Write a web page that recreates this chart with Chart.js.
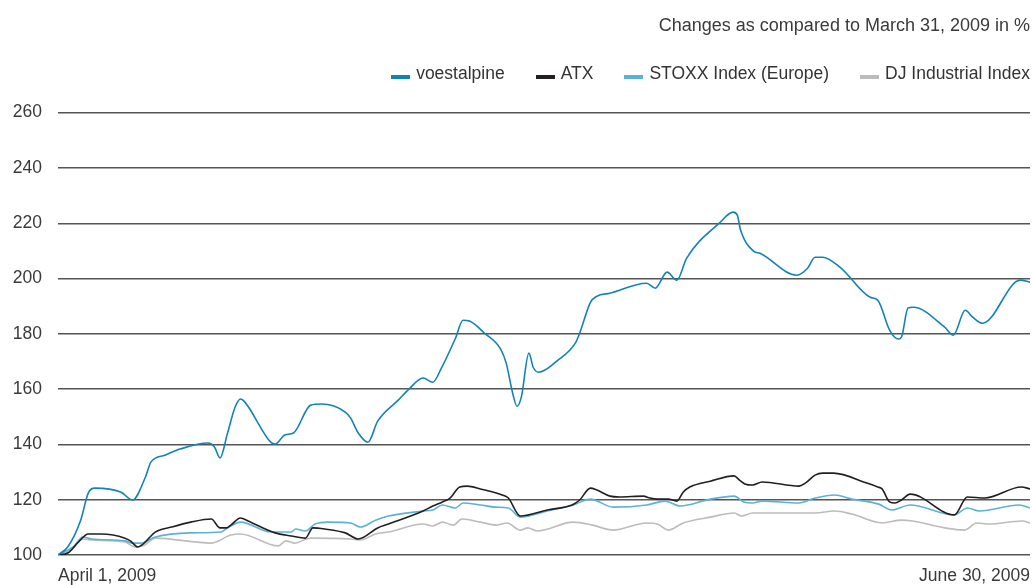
<!DOCTYPE html>
<html>
<head>
<meta charset="utf-8">
<script src="https://cdn.jsdelivr.net/npm/chart.js@4"></script>
<style>
  html, body { margin: 0; padding: 0; background: #fff; }
  #wrap { position: relative; width: 1032px; height: 585px; }
  #legend {
    position: absolute; top: 63px; right: 2px; height: 20px;
    display: flex; align-items: center;
    font-family: "Liberation Sans", Arial, Helvetica, sans-serif;
    font-size: 17.5px; color: #333; white-space: nowrap;
  }
  #legend .item { display: flex; align-items: center; margin-left: 31px; }
  #legend .item:first-child { margin-left: 0; }
  #legend .box { display: inline-block; width: 19px; height: 4px; margin-right: 6px; position: relative; top: 4px; }
</style>
</head>
<body>
<div id="wrap">
  <canvas id="chartCanvas" width="1032" height="585"></canvas>
  <div id="legend"></div>
</div>
<script>
// x = days since April 1, 2009 (0 .. 90 = June 30), y = index, March 31, 2009 = 100
const xLabels = ['April 1, 2009', 'June 30, 2009'];
const yTicks = [100, 120, 140, 160, 180, 200, 220, 240, 260];

const voestDays = [0, 0.9, 2.1, 2.8, 3.4, 5.8, 6.9, 8.1, 8.6, 9.9, 11.3, 13.9, 14.5, 15.0, 15.7, 16.4, 16.9, 17.3,
  19.7, 20.1, 21.0, 21.8, 23.4, 24.4, 26.6, 27.1, 27.8, 28.7, 29.6, 31.5, 32.4, 33.8, 34.7, 35.5, 36.8, 37.5, 38.1,
  39.5, 41.0, 41.5, 42.1, 42.5, 42.9, 43.6, 44.0, 44.5, 46.3, 47.9, 48.3, 49.3, 49.9, 51.1, 54.5, 55.3, 56.4, 57.3,
  58.2, 61.3, 62.5, 62.9, 63.2, 64.4, 65.0, 68.4, 69.4, 70.1, 70.8, 72.4, 75.2, 75.9, 77.0, 77.8, 78.1, 78.7, 79.2,
  82.1, 82.9, 84.0, 84.7, 85.6, 89.1, 90];
const voestValues = [100, 102.9, 112.6, 122.4, 124.2, 122.8, 119.9, 128.2, 133.6, 136.1, 138.3, 140.5, 139, 135.1, 144.1, 153.5, 156.4, 155.3,
  140.8, 140.1, 143.4, 144.1, 154.2, 154.6, 151.7, 149.5, 144.1, 140.8, 148.4, 156, 159.6, 164, 162.5, 167.6, 178.4, 184.9, 184.6,
  180.2, 174.4, 169.4, 158.5, 153.8, 157.1, 173, 167.9, 166.1, 170.5, 176.6, 180.2, 191.4, 193.6, 194.7, 198.3, 196.5, 202.3, 199.4,
  207.3, 220.3, 224, 222.9, 217.5, 209.9, 209.1, 201.2, 203.7, 207.7, 207.7, 204.1, 193.2, 192.2, 181.3, 178.1, 178.8, 189.3, 189.6,
  182.4, 179.5, 188.5, 186, 183.8, 199.4, 198.7];

const atxDays = [0, 0.9, 1.9, 2.8, 4.0, 6.2, 6.7, 7.4, 7.9, 9.0, 10.5, 12.3, 14.2, 15.0, 15.6, 16.0, 16.9, 17.6,
  20.1, 21.6, 22.9, 23.6, 24.7, 26.6, 27.8, 29.6, 30.6, 33.8, 34.7, 35.6, 36.3, 37.2, 37.9, 39.1, 41.4, 41.7, 42.8,
  45.3, 47.6, 48.3, 49.3, 49.9, 51.1, 52.0, 54.2, 54.8, 55.5, 56.5, 57.3, 57.9, 58.5, 60.4, 62.6, 63.1, 63.6, 64.3,
  65.2, 68.6, 69.2, 70.1, 70.8, 71.8, 74.9, 75.9, 76.3, 77.0, 77.5, 78.1, 78.9, 83.0, 84.2, 85.8, 89.2, 90];
const atxValues = [100, 100.7, 104.7, 107.6, 107.6, 106.1, 105.1, 102.9, 104, 108.3, 110.1, 111.9, 113, 109.8, 109.8, 110.8, 113.4, 112.3,
  108, 106.9, 106.1, 109.8, 109.4, 108, 105.8, 109.8, 111.2, 115.9, 117.7, 119.2, 120.6, 124.6, 124.9, 123.9, 121.3, 120.6, 114.1,
  116.3, 118.1, 119.9, 124.2, 123.5, 121.3, 121, 121.3, 120.6, 120.2, 120.2, 119.5, 122.8, 124.6, 126.7, 128.6, 127.1, 125.7, 125.3,
  126.4, 124.9, 126, 128.9, 129.6, 129.6, 126, 124.6, 123.9, 119.2, 118.8, 119.9, 122, 114.5, 121, 120.6, 124.6, 123.9];

const stoxxDays = [0, 1.4, 2.3, 3.1, 6.2, 6.9, 7.7, 9.0, 12.3, 15.1, 15.7, 16.9, 19.7, 21.6, 22.0, 22.9, 23.8, 25.0,
  27.1, 28.0, 29.4, 30.6, 33.8, 34.7, 35.6, 36.8, 37.5, 39.1, 40.5, 41.7, 42.8, 45.3, 47.7, 49.3, 51.4, 54.5, 56.2,
  57.6, 60.4, 62.6, 63.5, 64.3, 65.2, 68.6, 70.1, 71.9, 73.5, 76.0, 77.2, 78.9, 83.0, 84.2, 85.3, 89.0, 90];
const stoxxValues = [100, 102.9, 106.5, 105.8, 105.1, 104.3, 104.3, 106.5, 108, 108.3, 109.8, 111.9, 108.3, 108.3, 109.4, 108.7, 111.2, 111.9,
  111.6, 110.1, 112.6, 114.1, 115.9, 116.3, 118.1, 117, 118.8, 118.1, 117.3, 117, 113.7, 115.9, 118.1, 120.2, 117.3, 118.1, 119.5,
  117.7, 120.2, 121.3, 119.2, 118.8, 119.5, 118.8, 120.6, 121.7, 120.2, 118.4, 116.3, 118.1, 114.5, 117, 115.9, 118.1, 117];

const djDays = [0, 1.2, 2.3, 3.1, 6.2, 7.1, 7.9, 9.0, 14.2, 16.0, 16.9, 20.4, 21.1, 21.9, 23.4, 27.1, 28.0, 29.4,
  30.6, 33.8, 34.7, 35.6, 36.6, 37.4, 39.1, 40.6, 41.6, 42.8, 43.5, 44.4, 47.7, 49.5, 51.4, 54.5, 55.5, 56.5, 57.9,
  60.4, 62.6, 63.3, 64.3, 70.1, 71.9, 73.5, 76.3, 78.1, 79.1, 82.1, 83.9, 85.1, 86.2, 89.3, 90];
const djValues = [100, 101.8, 105.8, 105.4, 104.7, 102.9, 103.3, 106.1, 104.3, 107.2, 107.6, 103.3, 105.1, 104.3, 106.1, 105.8, 105.4, 107.6,
  108.3, 111.2, 110.5, 111.9, 110.8, 113, 111.9, 110.8, 111.6, 109, 109.8, 108.7, 111.9, 110.8, 109, 111.6, 111.2, 109, 111.6,
  113.7, 115.2, 114.1, 115.2, 115.2, 115.9, 114.8, 111.6, 112.6, 112.3, 109.8, 109, 111.6, 111.2, 112.3, 111.6];

function toPoints(days, values) {
    return days.map((d, i) => ({ x: d, y: values[i] }));
}

function makeSeries(label, days, values, color) {
    return {
        label: label,
        data: toPoints(days, values),
        borderColor: color,
        backgroundColor: color,
        borderWidth: 1.6,
        pointRadius: 0,
        cubicInterpolationMode: 'monotone',
        fill: false
    };
}

const fontFamily = '"Liberation Sans", Arial, Helvetica, sans-serif';
const textColor = '#3a3a3a';

const ctx = document.getElementById('chartCanvas').getContext('2d');
const chart = new Chart(ctx, {
    type: 'line',
    data: {
        datasets: [
            makeSeries('voestalpine', voestDays, voestValues, '#1383b5'),
            makeSeries('ATX', atxDays, atxValues, '#231f20'),
            makeSeries('STOXX Index (Europe)', stoxxDays, stoxxValues, '#5cb2d6'),
            makeSeries('DJ Industrial Index', djDays, djValues, '#bcbcbc')
        ]
    },
    options: {
        responsive: false,
        animation: false,
        layout: { padding: { left: 0, right: 2, top: 0, bottom: 0 } },
        plugins: {
            tooltip: { enabled: false },
            legend: { display: false },
            title: {
                display: true,
                text: 'Changes as compared to March 31, 2009 in %',
                align: 'end',
                color: textColor,
                font: { family: fontFamily, size: 18, weight: 'normal', lineHeight: 1.2 },
                padding: { top: 15, bottom: 76 }
            }
        },
        scales: {
            x: {
                type: 'linear',
                min: 0,
                max: 90,
                grid: { display: false, drawTicks: false },
                border: { display: false },
                afterBuildTicks: (scale) => {
                    scale.ticks = [{ value: 0 }, { value: 90 }];
                },
                afterFit: (scale) => {
                    scale.height = 30;
                    scale.paddingLeft = 0;
                    scale.paddingRight = 0;
                },
                ticks: {
                    autoSkip: false,
                    maxRotation: 0,
                    align: 'inner',
                    padding: 11,
                    color: textColor,
                    font: { family: fontFamily, size: 17.5 },
                    callback: (value) => value === 0 ? xLabels[0] : xLabels[1]
                }
            },
            y: {
                min: yTicks[0],
                max: yTicks[yTicks.length - 1],
                afterBuildTicks: (scale) => {
                    scale.ticks = yTicks.map(v => ({ value: v }));
                },
                afterFit: (scale) => { scale.width = 58; },
                grid: { color: '#555', lineWidth: 1.4, drawTicks: false },
                border: { display: false },
                ticks: {
                    padding: 16,
                    color: textColor,
                    font: { family: fontFamily, size: 17.5 }
                }
            }
        }
    }
});

// HTML legend built from the chart's datasets
const legendDiv = document.getElementById('legend');
chart.data.datasets.forEach((ds) => {
    const item = document.createElement('span');
    item.className = 'item';
    const box = document.createElement('span');
    box.className = 'box';
    box.style.background = ds.borderColor;
    const label = document.createElement('span');
    label.textContent = ds.label;
    item.appendChild(box);
    item.appendChild(label);
    legendDiv.appendChild(item);
});
</script>
</body>
</html>
